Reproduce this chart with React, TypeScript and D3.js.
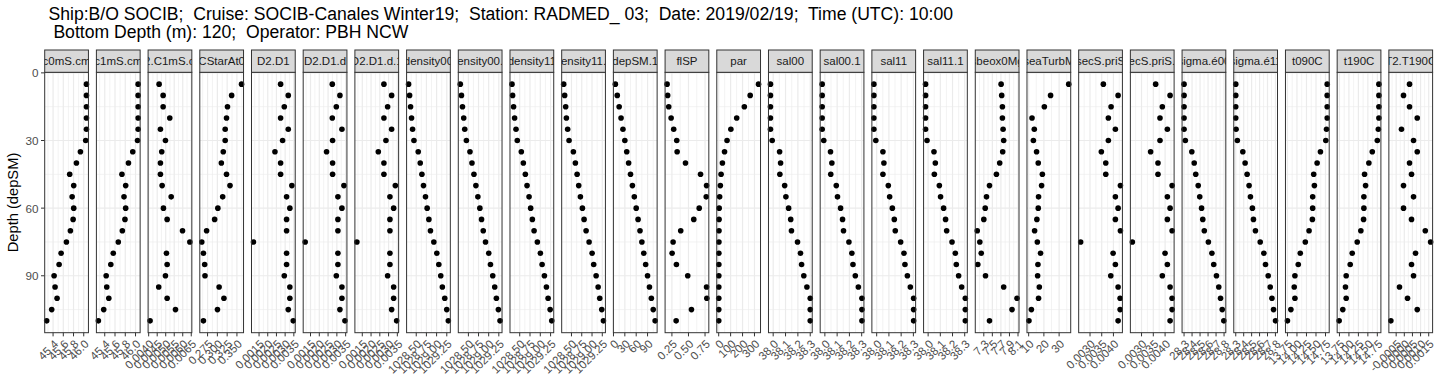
import React from 'react';
import * as d3 from 'd3';

// ---------- data ----------
const depth = [5, 10, 15, 20, 25, 30, 35, 40, 45, 50, 55, 60, 65, 70, 75, 80, 85, 90, 95, 100, 105, 110];

const titleLines = [
  'Ship:B/O SOCIB;  Cruise: SOCIB-Canales Winter19;  Station: RADMED_ 03;  Date: 2019/02/19;  Time (UTC): 10:00',
  ' Bottom Depth (m): 120;  Operator: PBH NCW',
];
const yTitle = 'Depth (depSM)';

const panelNames = [
  'c0mS.cm', 'c1mS.cm', 'C2.C1mS.cm', 'CStarAt0', 'D2.D1', 'D2.D1.d', 'D2.D1.d.1',
  'density00', 'density00.1', 'density11', 'density11.1', 'depSM.1', 'flSP', 'par',
  'sal00', 'sal00.1', 'sal11', 'sal11.1', 'sbeox0Mg', 'seaTurbM', 'secS.priS', 'secS.priS.1',
  'sigma.é00', 'sigma.é11', 't090C', 't190C', 'T2.T190C',
];

const c0mS_cm = [46.053, 46.053, 46.053, 46.053, 46.053, 46.039, 45.935, 45.857, 45.725, 45.804, 45.773, 45.804, 45.792, 45.739, 45.661, 45.557, 45.518, 45.420, 45.439, 45.478, 45.373, 45.275];
const c1mS_cm = [46.051, 46.051, 46.051, 46.051, 46.051, 46.039, 45.946, 45.862, 45.735, 45.808, 45.775, 45.808, 45.794, 45.743, 45.664, 45.566, 45.518, 45.428, 45.439, 45.479, 45.380, 45.276];
const C2_C1mS_cm = [0.004613, 0.004849, 0.004849, 0.005238, 0.004690, 0.004985, 0.004767, 0.004690, 0.004690, 0.004790, 0.005321, 0.004867, 0.005085, 0.005987, 0.006417, 0.005044, 0.005085, 0.004985, 0.004590, 0.005085, 0.005574, 0.004083];
const CStarAt0 = [0.3618, 0.3365, 0.3259, 0.3234, 0.3200, 0.3200, 0.3151, 0.3102, 0.3234, 0.3323, 0.3136, 0.3013, 0.2930, 0.2725, 0.2602, 0.2644, 0.2676, 0.2684, 0.3045, 0.3168, 0.3003, 0.2644];
const D2_D1 = [0.002740, 0.003180, 0.002951, 0.002740, 0.003180, 0.002854, 0.002414, 0.002740, 0.002740, 0.003386, 0.003083, 0.003271, 0.003083, 0.003083, 0.001180, 0.003083, 0.003083, 0.002951, 0.003271, 0.003271, 0.003180, 0.003466];
const D2_D1_d = [0.002740, 0.003174, 0.002969, 0.002740, 0.003289, 0.002757, 0.002414, 0.002757, 0.002757, 0.003403, 0.003060, 0.003289, 0.003060, 0.003060, 0.001197, 0.003060, 0.003060, 0.002969, 0.003289, 0.003289, 0.003174, 0.003460];
const D2_D1_d_1 = [0.002734, 0.003174, 0.002946, 0.002734, 0.003174, 0.002849, 0.002414, 0.002734, 0.002734, 0.003386, 0.003077, 0.003289, 0.003077, 0.003077, 0.001191, 0.003077, 0.003077, 0.002946, 0.003289, 0.003289, 0.003174, 0.003460];
const density00 = [1028.312, 1028.337, 1028.361, 1028.385, 1028.410, 1028.444, 1028.549, 1028.598, 1028.639, 1028.678, 1028.727, 1028.768, 1028.810, 1028.849, 1028.932, 1029.005, 1029.054, 1029.102, 1029.141, 1029.200, 1029.249, 1029.288];
const density00_1 = [1028.300, 1028.329, 1028.354, 1028.385, 1028.410, 1028.451, 1028.539, 1028.588, 1028.637, 1028.685, 1028.734, 1028.783, 1028.824, 1028.866, 1028.922, 1029.002, 1029.044, 1029.100, 1029.149, 1029.190, 1029.239, 1029.280];
const density11 = [1028.312, 1028.327, 1028.351, 1028.376, 1028.410, 1028.441, 1028.539, 1028.588, 1028.637, 1028.678, 1028.727, 1028.766, 1028.807, 1028.849, 1028.929, 1029.002, 1029.044, 1029.100, 1029.149, 1029.190, 1029.239, 1029.278];
const density11_1 = [1028.310, 1028.334, 1028.359, 1028.376, 1028.407, 1028.441, 1028.546, 1028.595, 1028.637, 1028.676, 1028.717, 1028.766, 1028.807, 1028.856, 1028.929, 1029.002, 1029.041, 1029.100, 1029.149, 1029.188, 1029.237, 1029.278];
const depSM_1 = [5, 10, 15, 20, 25, 30, 35, 40, 45, 50, 55, 60, 65, 70, 75, 80, 85, 90, 95, 100, 105, 110];
const flSP = [0.177, 0.186, 0.202, 0.238, 0.277, 0.323, 0.329, 0.455, 0.682, 0.773, 0.768, 0.662, 0.580, 0.383, 0.268, 0.253, 0.318, 0.489, 0.773, 0.777, 0.545, 0.314];
const par = [334, 264, 215, 151, 102, 70, 49, 31, 20, 14, 8, 4, 3, 2.5, 2, 1.6, 1.3, 1.1, 0.9, 0.8, 0.7, 0.6];
const sal00 = [37.978, 37.978, 37.978, 37.978, 37.978, 37.992, 38.052, 38.060, 38.054, 38.093, 38.103, 38.125, 38.142, 38.148, 38.197, 38.221, 38.230, 38.248, 38.273, 38.300, 38.300, 38.300];
const sal00_1 = [37.978, 37.978, 37.978, 37.978, 37.978, 37.991, 38.046, 38.057, 38.048, 38.093, 38.103, 38.128, 38.144, 38.152, 38.196, 38.220, 38.229, 38.248, 38.273, 38.302, 38.302, 38.302];
const sal11 = [37.977, 37.977, 37.977, 37.977, 37.977, 37.993, 38.051, 38.059, 38.051, 38.095, 38.106, 38.128, 38.144, 38.152, 38.196, 38.223, 38.231, 38.251, 38.275, 38.302, 38.302, 38.302];
const sal11_1 = [37.979, 37.979, 37.979, 37.979, 37.979, 37.991, 38.048, 38.059, 38.051, 38.092, 38.102, 38.127, 38.143, 38.152, 38.196, 38.223, 38.231, 38.250, 38.275, 38.305, 38.305, 38.305];
const sbeox0Mg = [7.705, 7.719, 7.735, 7.735, 7.751, 7.765, 7.742, 7.672, 7.595, 7.433, 7.363, 7.333, 7.300, 7.147, 7.207, 7.240, 7.160, 7.340, 7.765, 8.077, 7.960, 7.433];
const seaTurbM = [36.3, 24.4, 20.3, 12.2, 13.7, 13.1, 15.2, 16.3, 19.0, 18.5, 16.5, 16.3, 15.4, 13.9, 15.7, 17.8, 16.1, 15.9, 17.0, 16.5, 11.8, 10.2];
const secS_priS = [0.003570, 0.004200, 0.003900, 0.003784, 0.004084, 0.003784, 0.003484, 0.003673, 0.003673, 0.004299, 0.004084, 0.004200, 0.004084, 0.004299, 0.002600, 0.003986, 0.004084, 0.003887, 0.004200, 0.004286, 0.004286, 0.004200];
const secS_priS_1 = [0.003600, 0.004213, 0.003883, 0.003784, 0.004097, 0.003784, 0.003386, 0.003699, 0.003699, 0.004299, 0.004097, 0.004213, 0.004097, 0.004299, 0.002610, 0.003999, 0.004097, 0.003883, 0.004213, 0.004299, 0.004299, 0.004213];
const sigma_e00 = [28.300, 28.300, 28.300, 28.300, 28.300, 28.316, 28.397, 28.427, 28.446, 28.477, 28.496, 28.519, 28.534, 28.553, 28.604, 28.648, 28.671, 28.705, 28.734, 28.756, 28.777, 28.797];
const sigma_e11 = [28.300, 28.300, 28.300, 28.300, 28.304, 28.320, 28.389, 28.418, 28.443, 28.468, 28.485, 28.510, 28.523, 28.548, 28.608, 28.654, 28.675, 28.709, 28.734, 28.756, 28.776, 28.801];
const t090C = [14.795, 14.795, 14.795, 14.795, 14.777, 14.758, 14.617, 14.530, 14.440, 14.458, 14.413, 14.413, 14.405, 14.318, 14.219, 14.087, 14.034, 13.946, 13.928, 13.946, 13.840, 13.750];
const t190C = [14.792, 14.792, 14.792, 14.792, 14.777, 14.750, 14.617, 14.527, 14.413, 14.440, 14.395, 14.395, 14.387, 14.315, 14.219, 14.087, 14.034, 13.928, 13.909, 13.928, 13.838, 13.742];
const T2_T190C = [0.000321, -0.000049, 0.000321, 0.000796, -0.000173, 0.000568, 0.000796, 0.000321, 0.000444, -0.000049, 0.000568, -0.000049, 0.000444, 0.001290, 0.001617, 0.000691, 0.000444, 0.000568, -0.000296, 0.000198, 0.000796, -0.000827];

const panelValues = [
  c0mS_cm, c1mS_cm, C2_C1mS_cm, CStarAt0, D2_D1, D2_D1_d, D2_D1_d_1,
  density00, density00_1, density11, density11_1, depSM_1, flSP, par,
  sal00, sal00_1, sal11, sal11_1, sbeox0Mg, seaTurbM, secS_priS, secS_priS_1,
  sigma_e00, sigma_e11, t090C, t190C, T2_T190C,
];

const ticksCond = [45.4, 45.6, 45.8, 46.0];
const ticksC2C1 = [0.0040, 0.0045, 0.0050, 0.0055, 0.0060, 0.0065];
const ticksCStar = [0.275, 0.300, 0.325, 0.350];
const ticksD2D1 = [0.0015, 0.0020, 0.0025, 0.0030, 0.0035];
const ticksDensity = [1028.50, 1028.75, 1029.00, 1029.25];
const ticksDepth = [0, 30, 60, 90];
const ticksFl = [0.25, 0.50, 0.75];
const ticksPar = [0, 100, 200, 300];
const ticksSal = [38.0, 38.1, 38.2, 38.3];
const ticksOx = [7.3, 7.5, 7.7, 7.9, 8.1];
const ticksTurb = [10, 20, 30];
const ticksSec = [0.0030, 0.0035, 0.0040];
const ticksSigma = [28.3, 28.4, 28.5, 28.6, 28.7, 28.8];
const ticksTemp = [13.75, 14.00, 14.25, 14.50, 14.75];
const ticksT2 = [-0.0005, 0.0000, 0.0005, 0.0010, 0.0015];

const panelTicks = [
  ticksCond, ticksCond, ticksC2C1, ticksCStar, ticksD2D1, ticksD2D1, ticksD2D1,
  ticksDensity, ticksDensity, ticksDensity, ticksDensity, ticksDepth, ticksFl, ticksPar,
  ticksSal, ticksSal, ticksSal, ticksSal, ticksOx, ticksTurb, ticksSec, ticksSec,
  ticksSigma, ticksSigma, ticksTemp, ticksTemp, ticksT2,
];
// decimals used for tick labels of each panel
const panelTickDecimals = [1, 1, 4, 3, 4, 4, 4, 2, 2, 2, 2, 0, 2, 0, 1, 1, 1, 1, 1, 0, 4, 4, 1, 1, 2, 2, 4];

const yTicks = [0, 30, 60, 90];

// ---------- layout ----------
const W = 1440;
const H = 384;
const plotLeft = 44.7;
const plotRight = 1432.6;
const stripTop = 50;
const panelTop = 72.3;
const panelBottom = 332.7;
const tickLen = 3.67;
const FONT = "'Liberation Sans', Arial, Helvetica, sans-serif";

export default function App() {
  const n = panelNames.length;
  const band = d3.scaleBand<number>()
    .domain(d3.range(n))
    .range([plotLeft, plotRight])
    .paddingInner(0.154)
    .paddingOuter(0);
  const bw = band.bandwidth();

  const [dMin, dMax] = d3.extent(depth) as [number, number];
  const dPad = (dMax - dMin) * 0.05;
  const y = d3.scaleLinear().domain([dMin - dPad, dMax + dPad]).range([panelTop, panelBottom]);
  const yStep = yTicks[1] - yTicks[0];
  const yMinor = yTicks.map((t) => t + yStep / 2).concat([yTicks[0] - yStep / 2])
    .filter((t) => t >= y.domain()[0] && t <= y.domain()[1]);

  const panels = panelValues.map((vals, i) => {
    const x0 = band(i) as number;
    const [mn, mx] = d3.extent(vals) as [number, number];
    const pad = (mx - mn) * 0.05;
    const x = d3.scaleLinear().domain([mn - pad, mx + pad]).range([x0, x0 + bw]);
    const majors = panelTicks[i];
    const step = majors[1] - majors[0];
    const [lo, hi] = x.domain();
    const minors = [majors[0] - step / 2, ...majors.map((t) => t + step / 2)].filter((t) => t >= lo && t <= hi);
    const f = d3.format(`.${panelTickDecimals[i]}f`);
    const fmt = (v: number) => f(v).replace('\u2212', '-');
    return { i, x0, x, majors, minors, fmt, vals };
  });

  return (
    <svg
      width={W}
      height={H}
      viewBox={`0 0 ${W} ${H}`}
      style={{ position: 'absolute', left: 0, top: 0, background: '#ffffff' }}
      fontFamily={FONT}
    >
      <rect x={0} y={0} width={W} height={H} fill="#ffffff" />
      <defs>
        {panels.map((p) => (
          <clipPath id={`strip-clip-${p.i}`} key={p.i}>
            <rect x={p.x0} y={stripTop} width={bw} height={panelTop - stripTop} />
          </clipPath>
        ))}
      </defs>

      {/* title */}
      <text x={48.5} y={20} fontSize={17.6} fill="#000" style={{ whiteSpace: 'pre' }}>{titleLines[0]}</text>
      <text x={48.5} y={37.5} fontSize={17.6} fill="#000" style={{ whiteSpace: 'pre' }}>{titleLines[1]}</text>

      {/* y axis title */}
      <text
        transform={`translate(12.7, ${(panelTop + panelBottom) / 2}) rotate(-90)`}
        textAnchor="middle"
        dominantBaseline="central"
        fontSize={14.7}
        fill="#000"
      >
        {yTitle}
      </text>

      {/* y axis ticks */}
      {yTicks.map((t) => (
        <g key={t}>
          <line x1={plotLeft - tickLen} x2={plotLeft} y1={y(t)} y2={y(t)} stroke="#333333" strokeWidth={1} />
          <text x={plotLeft - tickLen - 2.5} y={y(t)} textAnchor="end" dominantBaseline="central" fontSize={11.7} fill="#4D4D4D">
            {t}
          </text>
        </g>
      ))}

      {panels.map((p) => (
        <g key={p.i}>
          {/* panel background */}
          <rect x={p.x0} y={panelTop} width={bw} height={panelBottom - panelTop} fill="#ffffff" />
          {/* minor grid */}
          {yMinor.map((t) => (
            <line key={`ym${t}`} x1={p.x0} x2={p.x0 + bw} y1={y(t)} y2={y(t)} stroke="#EBEBEB" strokeWidth={0.6} />
          ))}
          {p.minors.map((t) => (
            <line key={`xm${t}`} x1={p.x(t)} x2={p.x(t)} y1={panelTop} y2={panelBottom} stroke="#EBEBEB" strokeWidth={0.6} />
          ))}
          {/* major grid */}
          {yTicks.map((t) => (
            <line key={`yM${t}`} x1={p.x0} x2={p.x0 + bw} y1={y(t)} y2={y(t)} stroke="#EBEBEB" strokeWidth={1.2} />
          ))}
          {p.majors.map((t) => (
            <line key={`xM${t}`} x1={p.x(t)} x2={p.x(t)} y1={panelTop} y2={panelBottom} stroke="#EBEBEB" strokeWidth={1.2} />
          ))}
          {/* points */}
          {p.vals.map((v, k) => (
            <circle key={k} cx={p.x(v)} cy={y(depth[k])} r={2.8} fill="#000000" />
          ))}
          {/* panel border */}
          <rect x={p.x0} y={panelTop} width={bw} height={panelBottom - panelTop} fill="none" stroke="#333333" strokeWidth={1} />
          {/* strip */}
          <rect x={p.x0} y={stripTop} width={bw} height={panelTop - stripTop} fill="#D9D9D9" stroke="#333333" strokeWidth={1} />
          <g clipPath={`url(#strip-clip-${p.i})`}>
            <text
              x={p.x0 + bw / 2}
              y={(stripTop + panelTop) / 2}
              textAnchor="middle"
              dominantBaseline="central"
              fontSize={11.5}
              fill="#1A1A1A"
            >
              {panelNames[p.i]}
            </text>
          </g>
          {/* x ticks */}
          {p.majors.map((t) => (
            <g key={`xt${t}`}>
              <line x1={p.x(t)} x2={p.x(t)} y1={panelBottom} y2={panelBottom + tickLen} stroke="#333333" strokeWidth={1} />
              <text
                transform={`translate(${p.x(t)}, ${panelBottom + tickLen + 2.6}) rotate(-45)`}
                textAnchor="end"
                dy="0.72em"
                fontSize={11.5}
                fill="#4D4D4D"
              >
                {p.fmt(t)}
              </text>
            </g>
          ))}
        </g>
      ))}
    </svg>
  );
}
